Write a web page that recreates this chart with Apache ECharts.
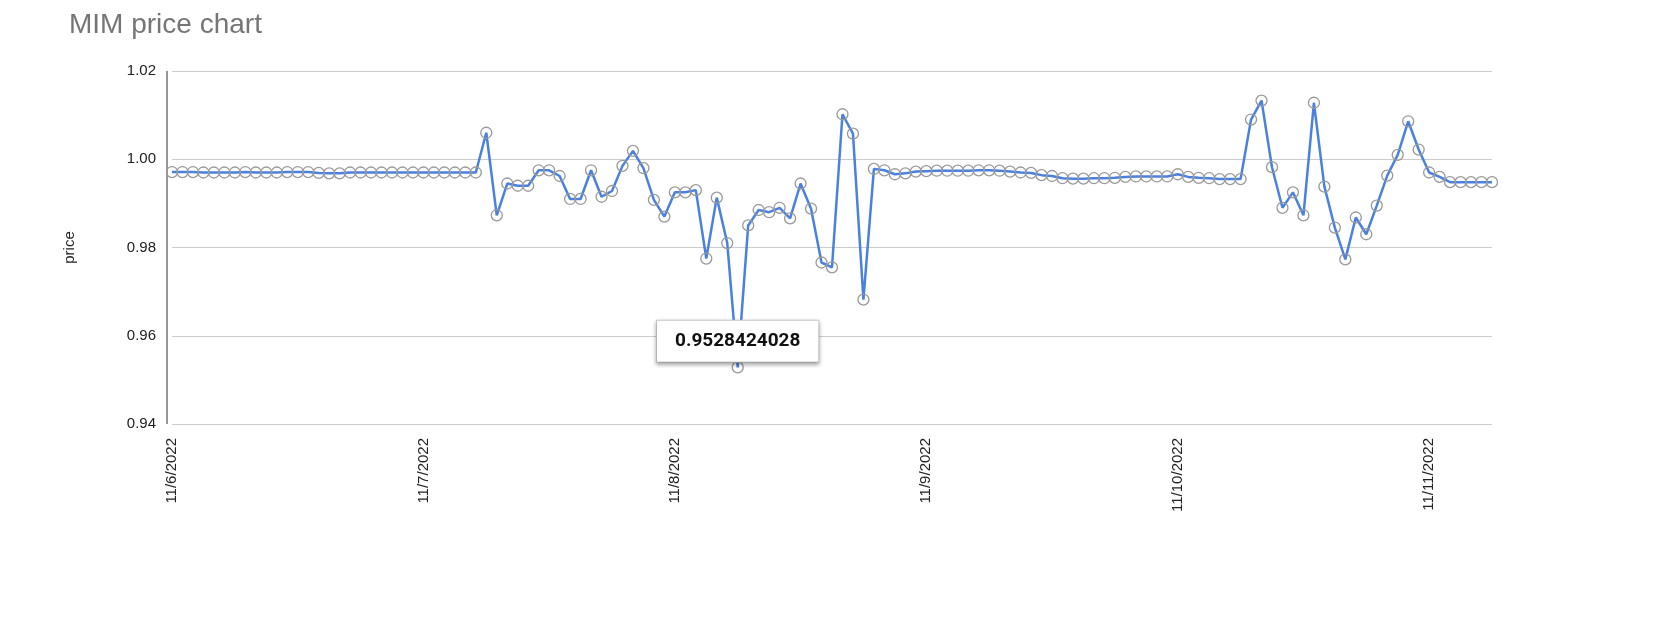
<!DOCTYPE html>
<html><head><meta charset="utf-8">
<script src="https://cdn.jsdelivr.net/npm/echarts@6/dist/echarts.min.js"></script>
<style>html,body{margin:0;background:#fff}#c{width:1660px;height:630px}</style>
</head><body><div id="c"></div>
<script>
const dayLabels = ["11/6/2022","11/7/2022","11/8/2022","11/9/2022","11/10/2022","11/11/2022"];
const prices = [
0.9971,0.9971,0.9971,0.9970,0.9970,0.9970,0.9970,0.9971,0.9970,0.9970,
0.9970,0.9971,0.9971,0.9971,0.9969,0.9968,0.9968,0.9970,0.9970,0.9970,
0.9970,0.9970,0.9970,0.9970,0.9970,0.9970,0.9970,0.9970,0.9970,0.9970,
1.0060,0.9873,0.9945,0.9940,0.9940,0.9975,0.9975,0.9962,0.9910,0.9910,
0.9975,0.9915,0.9928,0.9985,1.0019,0.9980,0.9908,0.9870,0.9925,0.9925,
0.9930,0.9775,0.9913,0.9810,0.9528424028,0.9850,0.9885,0.9880,0.9890,0.9866,
0.9945,0.9888,0.9766,0.9755,1.0102,1.0058,0.9682,0.9978,0.9975,0.9966,
0.9968,0.9972,0.9973,0.9974,0.9974,0.9974,0.9974,0.9975,0.9975,0.9974,
0.9972,0.9970,0.9969,0.9964,0.9962,0.9957,0.9956,0.9956,0.9957,0.9957,
0.9958,0.9960,0.9961,0.9961,0.9961,0.9961,0.9966,0.9960,0.9958,0.9957,
0.9955,0.9955,0.9955,1.0090,1.0133,0.9982,0.9890,0.9925,0.9873,1.0128,
0.9938,0.9845,0.9773,0.9868,0.9830,0.9895,0.9963,1.0010,1.0086,1.0022,
0.9970,0.9960,0.9948,0.9948,0.9948,0.9948,0.9948
];
const yTicks = [0.94,0.96,0.98,1.00,1.02];
const categories = prices.map((v,i)=> i%24===0 ? dayLabels[i/24] : String(i%24)+":00");
const minIdx = prices.indexOf(Math.min(...prices));
const chart = echarts.init(document.getElementById('c'));
chart.setOption({
  animation:false,
  title:{text:'MIM price chart',left:64,top:6,textStyle:{color:'#757575',fontSize:28,fontWeight:'normal',fontFamily:'Arial, Liberation Sans'}},
  grid:{left:172,right:168,top:71,bottom:206},
  graphic:[{type:'line',shape:{x1:167,y1:71,x2:167,y2:424},style:{stroke:'#333',lineWidth:1}}],
  xAxis:{type:'category',data:categories,boundaryGap:false,
    axisLine:{show:false},axisTick:{show:false},
    axisLabel:{rotate:90,interval:(i)=>i%24===0,color:'#222',fontSize:15,fontFamily:'Arial, Liberation Sans',margin:14}},
  yAxis:{type:'value',min:0.94,max:1.02,interval:0.02,name:'price',nameLocation:'middle',nameGap:95,nameRotate:90,
    nameTextStyle:{color:'#222',fontSize:15,fontFamily:'Arial, Liberation Sans'},
    axisLine:{show:false},axisTick:{show:false},
    splitLine:{lineStyle:{color:'#ccc'}},
    axisLabel:{formatter:(v)=>{const t=yTicks.find(x=>Math.abs(x-v)<1e-9);return t!==undefined?t.toFixed(2):'';},color:'#222',fontSize:15,fontFamily:'Arial, Liberation Sans',margin:16}},
  series:[{type:'line',data:prices,symbol:'circle',symbolSize:11,showAllSymbol:true,
    lineStyle:{color:'#4a80e0',width:2.5},
    itemStyle:{color:'rgba(255,255,255,0)',borderColor:'#999',borderWidth:1.3},
    markPoint:{symbol:'rect',symbolSize:1,itemStyle:{color:'rgba(0,0,0,0)'},
      data:[{coord:[minIdx,prices[minIdx]],value:prices[minIdx]}],
      label:{show:true,offset:[0,-26],formatter:(p)=>String(p.value),color:'#111',fontSize:19,fontWeight:'bold',fontFamily:'Roboto, Arial',
        backgroundColor:'#fff',borderColor:'#ccc',borderWidth:1,padding:[11,18],shadowColor:'rgba(0,0,0,0.3)',shadowBlur:4,shadowOffsetY:2}}}]
});
</script></body></html>
